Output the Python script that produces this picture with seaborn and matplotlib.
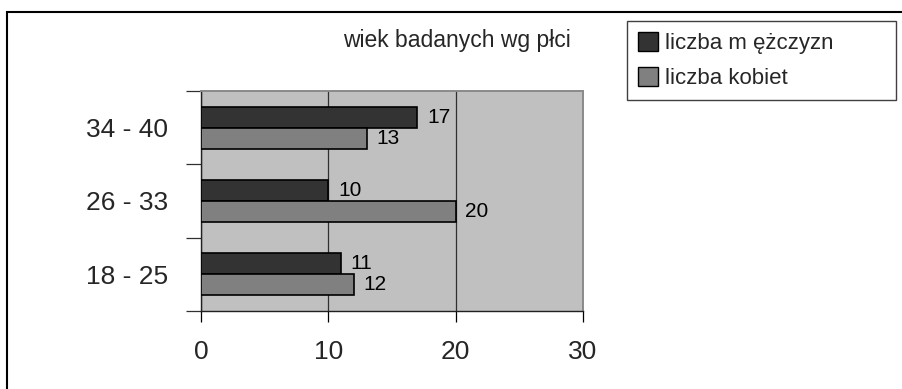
import pandas as pd
import matplotlib
matplotlib.use("Agg")
import matplotlib.pyplot as plt
import matplotlib.patches as mpatches
import seaborn as sns

# data
age_groups = ["34 - 40", "26 - 33", "18 - 25"]
men = [17, 10, 11]
women = [13, 20, 12]
series_names = ["liczba m ężczyzn", "liczba kobiet"]
title_text = "wiek badanych wg płci"
x_ticks = [0, 10, 20, 30]

df = pd.DataFrame({
    "wiek": age_groups * 2,
    "liczba": men + women,
    "seria": [series_names[0]] * len(age_groups) + [series_names[1]] * len(age_groups),
})

sns.set_theme(style="white")
plt.rcParams["font.family"] = ["Liberation Sans", "DejaVu Sans"]

W, H = 902, 389
fig = plt.figure(figsize=(W / 100, H / 100), dpi=100)
fig.patch.set_facecolor("white")

# axes placed like the original plot area (pixels -> figure fractions)
ax = fig.add_axes([201 / W, 1 - 311 / H, (583 - 201) / W, (311 - 91) / H])
ax.set_facecolor("#c0c0c0")

colors = ["#333333", "#808080"]
sns.barplot(data=df, y="wiek", x="liczba", hue="seria", order=age_groups,
            hue_order=series_names, palette=colors, orient="h", width=0.57,
            edgecolor="black", linewidth=1.2, saturation=1, ax=ax, zorder=3)
ax.get_legend().remove()

for cont in ax.containers:
    ax.bar_label(cont, padding=7, fontsize=15, color="black")

# x axis
ax.set_xlim(0, 30)
ax.set_xticks(x_ticks)
ax.set_xticklabels([str(t) for t in x_ticks], fontsize=19)
ax.xaxis.grid(True, color="#303030", linewidth=0.9)
ax.set_axisbelow(True)
ax.tick_params(axis="x", which="major", direction="out", length=8, width=0.9,
               color="black", pad=13, bottom=True)

# y axis: ticks between groups, labels in the middle
ax.set_yticks([-0.5, 0.5, 1.5, 2.5])
ax.set_yticklabels([])
ax.set_yticks([0, 1, 2], minor=True)
ax.set_yticklabels(age_groups, minor=True, fontsize=19)
ax.set_ylim(2.5, -0.5)
ax.tick_params(axis="y", which="major", direction="out", length=11, width=0.9,
               color="#303030", left=True)
ax.tick_params(axis="y", which="minor", length=0, pad=24, left=True)
ax.set_xlabel("")
ax.set_ylabel("")

for side in ["left", "bottom"]:
    ax.spines[side].set_color("#202020")
    ax.spines[side].set_linewidth(1.0)
for side in ["top", "right"]:
    ax.spines[side].set_color("#8a8a8a")
    ax.spines[side].set_linewidth(1.4)

# title
fig.text(457 / W, 1 - 40 / H, title_text, fontsize=16.5, ha="center", va="center")

# legend, box stretched to the original width
handles = [mpatches.Patch(facecolor=c, edgecolor="black", linewidth=1.0) for c in colors]
leg = fig.legend(handles, series_names, loc="upper left", mode="expand",
                 bbox_to_anchor=(627 / W, 1 - 102 / H, (896 - 627) / W, 81 / H), fontsize=16,
                 frameon=True, fancybox=False, framealpha=1, edgecolor="#404040",
                 handlelength=0.9, handleheight=0.9, handletextpad=0.3,
                 borderpad=0.5, labelspacing=0.6, borderaxespad=0)
leg.get_frame().set_linewidth(1.0)

# outer chart border (only top and left edges are visible in the original)
border = mpatches.Rectangle((7 / W, -0.1), 1.2, 1 - 12 / H + 0.1, transform=fig.transFigure,
                            fill=False, edgecolor="black", linewidth=1.5, clip_on=False)
fig.patches.append(border)

plt.savefig("out.png", dpi=100)
plt.close(fig)
